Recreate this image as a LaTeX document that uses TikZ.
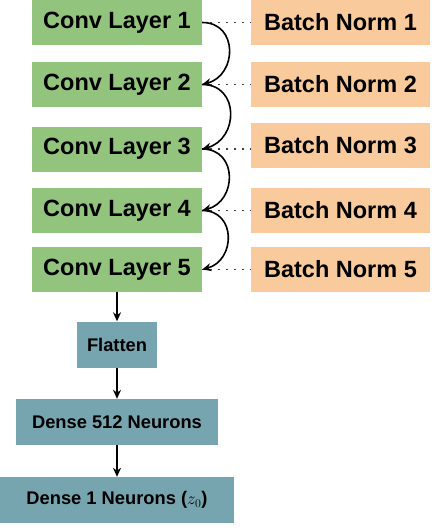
\documentclass[tikz,border=0pt]{standalone}
\usepackage{fontspec}
\setmainfont{Liberation Sans}
\usetikzlibrary{arrows.meta}
\definecolor{convgreen}{HTML}{93C47D}
\definecolor{normorange}{HTML}{F9CB9C}
\definecolor{denseteal}{HTML}{76A5AF}
\begin{document}
\begin{tikzpicture}[x=1pt,y=1pt,
    every node/.append style={inner sep=0pt, font=\bfseries},
    conv/.style={fill=convgreen, minimum width=170pt, minimum height=45pt, font=\fontsize{23.5}{26}\bfseries},
    norm/.style={fill=normorange, minimum width=179pt, minimum height=45pt, font=\fontsize{23.5}{26}\bfseries},
    dense/.style={fill=denseteal, minimum height=46pt, font=\fontsize{18.3}{21}\bfseries},
    link/.style={-{Stealth[length=9pt,width=8pt]}, line width=1.6pt, out=0, in=15, looseness=1.5},
    pair/.style={line width=1.3pt, black!75, dash pattern=on 1.3pt off 6.7pt},
    flow/.style={-{Stealth[length=9pt,width=8pt]}, line width=1.6pt}]
    \useasboundingbox (0,0) rectangle (435,-532);
    % conv stack
    \node[conv] (conv1) at (117,-22.5) {Conv Layer 1};
    \node[conv] (conv2) at (117,-84.5) {Conv Layer 2};
    \node[conv] (conv3) at (117,-149) {Conv Layer 3};
    \node[conv] (conv4) at (117,-210.5) {Conv Layer 4};
    \node[conv] (conv5) at (117,-269.5) {Conv Layer 5};
    % batch norms
    \node[norm] (norm1) at (340.5,-22.5) {Batch Norm 1};
    \node[norm] (norm2) at (340.5,-84.5) {Batch Norm 2};
    \node[norm] (norm3) at (340.5,-145.5) {Batch Norm 3};
    \node[norm] (norm4) at (340.5,-210.5) {Batch Norm 4};
    \node[norm] (norm5) at (340.5,-269.5) {Batch Norm 5};
    % dense part
    \node[dense, minimum width=80pt] (flatten) at (117,-344.5) {Flatten};
    \node[dense, minimum width=202pt] (dense512) at (117,-422) {Dense 512 Neurons};
    \node[dense, minimum width=234pt] (dense1) at (117,-500) {Dense 1 Neurons ($z_0$)};
    \draw[pair] (conv1.east) -- (conv1.east -| norm1.west);
    \draw[pair] (conv2.east) -- (conv2.east -| norm2.west);
    \draw[pair] (conv3.east) -- (conv3.east -| norm3.west);
    \draw[pair] (conv4.east) -- (conv4.east -| norm4.west);
    \draw[pair] (conv5.east) -- (conv5.east -| norm5.west);
    \draw[link] (conv1.east) to (conv2.east);
    \draw[link] (conv2.east) to (conv3.east);
    \draw[link] (conv3.east) to (conv4.east);
    \draw[link] (conv4.east) to (conv5.east);
    \draw[flow] (conv5) -- (flatten);
    \draw[flow] (flatten) -- (dense512);
    \draw[flow] (dense512) -- (dense1);
\end{tikzpicture}
\end{document}
